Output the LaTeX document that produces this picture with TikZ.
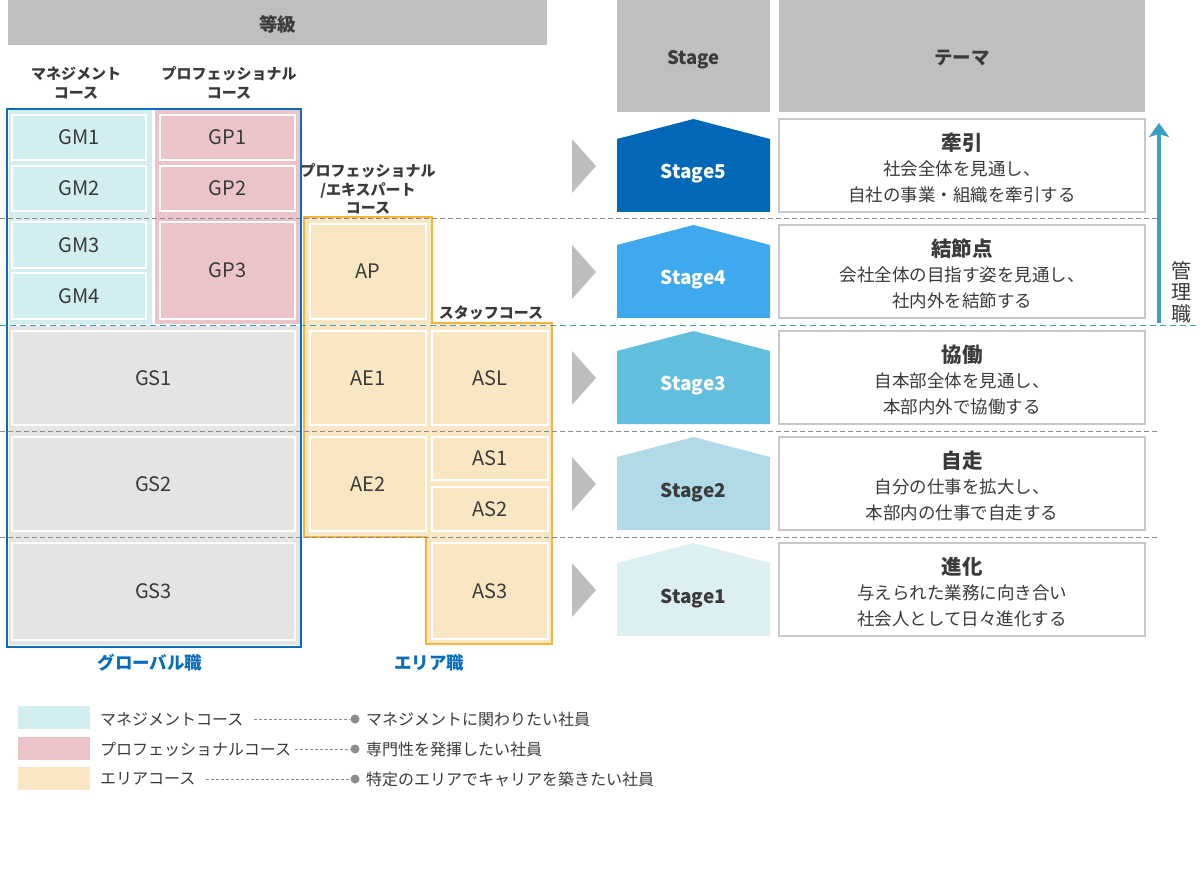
\documentclass[tikz,border=0pt]{standalone}
\usepackage{fontspec}
\setmainfont{Noto Sans CJK JP}
\usetikzlibrary{arrows.meta}
\definecolor{ink}{HTML}{3A3A3A}
\definecolor{headgray}{HTML}{BFBFBF}
\definecolor{mgfill}{HTML}{D2EEF1}
\definecolor{pffill}{HTML}{EBC4CA}
\definecolor{gsfill}{HTML}{E4E4E4}
\definecolor{areafill}{HTML}{F9E7C4}
\definecolor{areaborder}{HTML}{F6B53A}
\definecolor{globalblue}{HTML}{0A6DBC}
\definecolor{stagefive}{HTML}{0068B7}
\definecolor{stagefour}{HTML}{3FA9EF}
\definecolor{stagethree}{HTML}{62BEDD}
\definecolor{stagetwo}{HTML}{B1DAE7}
\definecolor{stageone}{HTML}{DCEFF3}
\definecolor{themeborder}{HTML}{C8C8C8}
\definecolor{dashgray}{HTML}{8C8C8C}
\definecolor{dashteal}{HTML}{3C9EC4}
\definecolor{markgray}{HTML}{BDBDBD}

\begin{document}
\begin{tikzpicture}[
  x=1pt, y=-1pt,
  font={\fontsize{16}{20}\selectfont}, text=ink,
  headbar/.style={fill=headgray, text=ink, font={\bfseries\fontsize{18.5}{20}\selectfont},
    text height=18pt, text depth=0pt, inner sep=0pt, anchor=center},
  cell/.style={draw=white, line width=1.5pt, text=ink, font={\fontsize{20}{22}\selectfont},
    inner sep=0pt, anchor=center},
  collabel/.style={text=ink, font={\bfseries\fontsize{15}{18.5}\selectfont}, align=center, inner sep=0pt},
  grouplabel/.style={text=globalblue, font={\bfseries\fontsize{17.5}{20}\selectfont}, inner sep=0pt},
  stagelabel/.style={font={\bfseries\fontsize{19}{20}\selectfont}, text height=14pt, text depth=0pt, inner sep=0pt},
  theme/.style={draw=themeborder, line width=1.8pt, fill=white, text=ink, align=center,
    minimum width=366pt, minimum height=93pt, inner sep=0pt, font={\fontsize{17.5}{25.5}\selectfont}},
  sepline/.style={draw=dashgray, line width=0.9pt, dash pattern=on 5pt off 3pt},
  mgline/.style={draw=dashteal, line width=0.9pt, dash pattern=on 6pt off 4pt},
  marker/.style={fill=markgray},
  swatch/.style={minimum width=72pt, minimum height=23pt, inner sep=0pt},
  legtext/.style={text=ink, font={\fontsize{16}{18}\selectfont}, inner sep=0pt, anchor=west},
  legdot/.style={circle, fill=dashgray, minimum size=9pt, inner sep=0pt},
  legline/.style={draw=dashgray, line width=0.7pt, dash pattern=on 3pt off 2pt},
  mgarrow/.style={-{Stealth[length=14pt,width=20pt,inset=3pt]}, draw=dashteal, line width=4pt}
]
\useasboundingbox (0,0) rectangle (1200,893);

% headers
\node[headbar, minimum width=539pt, minimum height=45pt] (grade) at (277.5,22.5) {等級};
\node[headbar, minimum width=153pt, minimum height=112pt] (stagehead) at (693.5,56) {Stage};
\node[headbar, minimum width=366pt, minimum height=112pt] (themehead) at (962,56) {テーマ};

\node[collabel] (mglabel) at (76,83) {マネジメント\\コース};
\node[collabel] (pflabel) at (229,83) {プロフェッショナル\\コース};
\node[collabel] (aplabel) at (368,189) {プロフェッショナル\\/エキスパート\\コース};
\node[collabel] (aslabel) at (491,313) {スタッフコース};

% column backgrounds
\fill[mgfill] (9,110) rectangle (152,324);
\fill[pffill] (155,110) rectangle (300,324);
\fill[gsfill] (9,326) rectangle (300,645);
\draw[fill=areafill, draw=areaborder, line width=2pt]
  (304,217) -- (432,217) -- (432,323) -- (552,323) -- (552,644) -- (426,644) -- (426,537) -- (304,537) -- cycle;

% stage separators
\draw[sepline] (0,218) -- (1157,218);
\draw[mgline] (0,325) -- (1200,325);
\draw[sepline] (0,431) -- (1157,431);
\draw[sepline] (0,537) -- (1157,537);

\node[draw=globalblue, line width=2pt, minimum width=294pt, minimum height=538pt, inner sep=0pt] (global) at (154,378) {};

% grades
\node[cell, fill=mgfill, minimum width=134pt, minimum height=45pt] (gm1) at (79,137.5) {GM1};
\node[cell, fill=mgfill, minimum width=134pt, minimum height=45pt] (gm2) at (79,188.5) {GM2};
\node[cell, fill=mgfill, minimum width=134pt, minimum height=46pt] (gm3) at (79,245) {GM3};
\node[cell, fill=mgfill, minimum width=134pt, minimum height=46pt] (gm4) at (79,296) {GM4};
\node[cell, fill=pffill, minimum width=135pt, minimum height=45pt] (gp1) at (227.5,137.5) {GP1};
\node[cell, fill=pffill, minimum width=135pt, minimum height=45pt] (gp2) at (227.5,188.5) {GP2};
\node[cell, fill=pffill, minimum width=135pt, minimum height=97pt] (gp3) at (227.5,270.5) {GP3};
\node[cell, fill=gsfill, minimum width=283pt, minimum height=94pt] (gs1) at (153.5,378) {GS1};
\node[cell, fill=gsfill, minimum width=283pt, minimum height=94pt] (gs2) at (153.5,484) {GS2};
\node[cell, fill=gsfill, minimum width=283pt, minimum height=97pt] (gs3) at (153.5,591.5) {GS3};
\node[cell, fill=areafill, minimum width=116pt, minimum height=95pt] (ap) at (368,271.5) {AP};
\node[cell, fill=areafill, minimum width=116pt, minimum height=94pt] (ae1) at (368,378) {AE1};
\node[cell, fill=areafill, minimum width=116pt, minimum height=94pt] (ae2) at (368,484) {AE2};
\node[cell, fill=areafill, minimum width=116pt, minimum height=94pt] (asl) at (490,378) {ASL};
\node[cell, fill=areafill, minimum width=116pt, minimum height=43pt] (as1) at (490,458.5) {AS1};
\node[cell, fill=areafill, minimum width=116pt, minimum height=44pt] (as2) at (490,509) {AS2};
\node[cell, fill=areafill, minimum width=116pt, minimum height=96pt] (as3) at (490,591) {AS3};

\node[grouplabel] (globallabel) at (150,663) {グローバル職};
\node[grouplabel] (arealabel) at (429,663) {エリア職};

% stages
\fill[marker] (572,139) -- (596,166) -- (572,193) -- cycle;
\fill[marker] (572,245) -- (596,272) -- (572,299) -- cycle;
\fill[marker] (572,351) -- (596,378) -- (572,405) -- cycle;
\fill[marker] (572,457) -- (596,484) -- (572,511) -- cycle;
\fill[marker] (572,563) -- (596,590) -- (572,617) -- cycle;

\fill[stagefive] (617,212) -- (617,139) -- (693.5,119) -- (770,139) -- (770,212) -- cycle;
\fill[stagefour] (617,318) -- (617,245) -- (693.5,225) -- (770,245) -- (770,318) -- cycle;
\fill[stagethree] (617,424) -- (617,351) -- (693.5,331) -- (770,351) -- (770,424) -- cycle;
\fill[stagetwo] (617,530) -- (617,457) -- (693.5,437) -- (770,457) -- (770,530) -- cycle;
\fill[stageone] (617,636) -- (617,563) -- (693.5,543) -- (770,563) -- (770,636) -- cycle;

\node[stagelabel, text=white] (st5) at (693.5,172) {Stage5};
\node[stagelabel, text=white] (st4) at (693.5,278) {Stage4};
\node[stagelabel, text=white] (st3) at (693.5,384) {Stage3};
\node[stagelabel] (st2) at (693.5,490) {Stage2};
\node[stagelabel] (st1) at (693.5,596) {Stage1};

\node[theme] (th5) at (962,165.5) {{\bfseries\fontsize{20.5}{25.5}\selectfont\rule{0pt}{22pt}牽引}\\社会全体を見通し、\\自社の事業・組織を牽引する};
\node[theme] (th4) at (962,271.5) {{\bfseries\fontsize{20.5}{25.5}\selectfont\rule{0pt}{22pt}結節点}\\会社全体の目指す姿を見通し、\\社内外を結節する};
\node[theme] (th3) at (962,377.5) {{\bfseries\fontsize{20.5}{25.5}\selectfont\rule{0pt}{22pt}協働}\\自本部全体を見通し、\\本部内外で協働する};
\node[theme] (th2) at (962,483.5) {{\bfseries\fontsize{20.5}{25.5}\selectfont\rule{0pt}{22pt}自走}\\自分の仕事を拡大し、\\本部内の仕事で自走する};
\node[theme] (th1) at (962,589.5) {{\bfseries\fontsize{20.5}{25.5}\selectfont\rule{0pt}{22pt}進化}\\与えられた業務に向き合い\\社会人として日々進化する};

% manager arrow
\coordinate (mgbot) at (1159,323);
\coordinate (mgtop) at (1159,123);
\draw[mgarrow] (mgbot) -- (mgtop);
\node[text=ink, font={\fontsize{20}{21.5}\selectfont}, align=center, inner sep=0pt] (mglbl) at (1181,292) {管\\理\\職};

% legend
\node[swatch, fill=mgfill] (sw1) at (54,717.5) {};
\node[swatch, fill=pffill] (sw2) at (54,748) {};
\node[swatch, fill=areafill] (sw3) at (54,778.5) {};
\node[legtext] (lg1) at (100,719) {マネジメントコース};
\node[legtext] (lg2) at (100,749) {プロフェッショナルコース};
\node[legtext] (lg3) at (100,779) {エリアコース};
\node[legdot] (dot1) at (355,719) {};
\node[legdot] (dot2) at (355,749) {};
\node[legdot] (dot3) at (355,779) {};
\node[legtext] (lgr1) at (366,719) {マネジメントに関わりたい社員};
\node[legtext] (lgr2) at (366,749) {専門性を発揮したい社員};
\node[legtext] (lgr3) at (366,779) {特定のエリアでキャリアを築きたい社員};
\draw[legline, shorten <=10pt] (lg1.east) -- (dot1);
\draw[legline, shorten <=4pt] (lg2.east) -- (dot2);
\draw[legline, shorten <=10pt] (lg3.east) -- (dot3);
\end{tikzpicture}
\end{document}
